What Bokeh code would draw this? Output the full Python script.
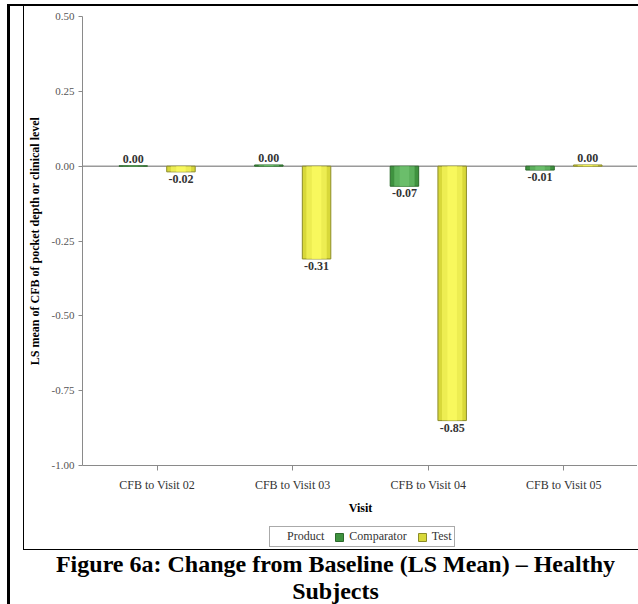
from bokeh.plotting import figure
from bokeh.models import (ColumnDataSource, Range1d, FactorRange, FixedTicker,
                          NumeralTickFormatter, Span, Legend, LegendItem, Div)
from bokeh.transform import dodge
from bokeh.layouts import column
from bokeh.embed import file_html
from bokeh.resources import INLINE
from bokeh.core.properties import value

# ---------------- data ----------------
visits = ["CFB to Visit 02", "CFB to Visit 03", "CFB to Visit 04", "CFB to Visit 05"]
comparator = [0.001, 0.004, -0.067, -0.013]
test = [-0.019, -0.31, -0.85, 0.004]
y_ticks = [-1.0, -0.75, -0.5, -0.25, 0.0, 0.25, 0.5]
series_names = ["Comparator", "Test"]
legend_title = "Product"
x_title = "Visit"
y_title = "LS mean of CFB of pocket depth or clinical level"
caption = "Figure 6a: Change from Baseline (LS Mean) \u2013 Healthy<br>Subjects"

FONT = "Liberation Serif"

p = figure(frame_width=555, frame_height=449,
           x_range=FactorRange(factors=visits, range_padding=0.05,
                               range_padding_units="absolute"),
           y_range=Range1d(-1.0, 0.5),
           output_backend="svg", toolbar_location=None,
           min_border_left=57, min_border_top=10, min_border_right=0,
           min_border_bottom=55,
           background_fill_color="white", border_fill_color="white")
p.outline_line_color = None
p.xgrid.visible = False
p.ygrid.visible = False

# axes
p.yaxis.ticker = FixedTicker(ticks=y_ticks)
p.yaxis.formatter = NumeralTickFormatter(format="0.00")
for ax in (p.xaxis[0], p.yaxis[0]):
    ax.axis_line_color = "#8a8a8a"
    ax.major_tick_line_color = "#8a8a8a"
    ax.major_tick_in = 0
    ax.minor_tick_line_color = None
    ax.major_label_text_font = FONT
    ax.axis_label_text_font = FONT
    ax.axis_label_text_font_style = "bold"
    ax.axis_label_text_color = "black"
    ax.axis_label_text_font_size = "12px"
p.yaxis.major_tick_out = 4
p.yaxis.major_label_text_font_size = "11px"
p.yaxis.major_label_text_color = "#555555"
p.yaxis.major_label_standoff = 4
p.yaxis.axis_label = y_title
p.yaxis.axis_label_standoff = 7
p.xaxis.major_tick_out = 5
p.xaxis.major_label_text_font_size = "12px"
p.xaxis.major_label_text_color = "#333333"
p.xaxis.major_label_standoff = 7
p.xaxis.axis_label = x_title
p.xaxis.axis_label_standoff = 6

p.add_layout(Span(location=0, dimension="width", line_color="#9a9a9a",
                  line_width=1.5, level="underlay"))

styles = {
    "Comparator": dict(base="#3f923f", light="#74c874", line="#2c6a2c", off=-0.176),
    "Test": dict(base="#d8d83a", light="#ffff66", line="#8c8c28", off=0.176),
}

# legend strip (its own small plot, below the chart, inside the frame border)
lg = figure(frame_width=614, frame_height=29, x_range=Range1d(0, 1),
            y_range=Range1d(0, 1), x_axis_type=None, y_axis_type=None,
            output_backend="svg", toolbar_location=None,
            min_border_left=0, min_border_right=0, min_border_top=0,
            min_border_bottom=0, background_fill_color="white",
            border_fill_color="white")
lg.outline_line_color = None
lg.xgrid.visible = False
lg.ygrid.visible = False

legend_items = []
# keys live off-screen in the legend strip, they only feed the legend swatches
dummy = lg.vbar(x=[-10], top=[-10], width=0.1, fill_alpha=0, line_alpha=0)
legend_items.append(LegendItem(label=legend_title, renderers=[dummy]))

for name, vals in zip(series_names, [comparator, test]):
    st = styles[name]
    src = ColumnDataSource(dict(visit=visits, val=vals))
    xd = dodge("visit", st["off"], range=p.x_range)
    p.vbar(x=xd, top="val", bottom=0, width=0.21, source=src,
           fill_color=st["base"], line_color=st["line"], line_width=1)
    p.vbar(x=xd, top="val", bottom=0, width=0.15, source=src,
           fill_color=st["light"], fill_alpha=0.55, line_color=None)
    p.vbar(x=xd, top="val", bottom=0, width=0.07, source=src,
           fill_color=st["light"], fill_alpha=0.6, line_color=None)
    key = lg.vbar(x=[-10], top=[-10], width=0.1, fill_color=st["base"],
                  line_color=st["line"])
    legend_items.append(LegendItem(label=name, renderers=[key]))

    pos = dict(visit=[], val=[], lab=[])
    neg = dict(visit=[], val=[], lab=[])
    for v, y in zip(visits, vals):
        d = pos if y >= 0 else neg
        d["visit"].append(v)
        d["val"].append(y)
        d["lab"].append(f"{y:.2f}")
    for d, bl, yo in ((pos, "bottom", -3), (neg, "top", 3)):
        p.text(x=dodge("visit", st["off"], range=p.x_range), y="val", text="lab",
               source=ColumnDataSource(d), text_align="center", text_baseline=bl,
               y_offset=yo, text_font=value(FONT), text_font_style="bold",
               text_font_size="12px", text_color="#333333")

legend = Legend(items=legend_items, orientation="horizontal", location=(245, 3),
                label_text_font=FONT, label_text_font_size="12px",
                label_text_color="#333333", glyph_width=10, glyph_height=10,
                label_standoff=5, spacing=10, padding=2, margin=0,
                border_line_color="#555555", border_line_width=1,
                background_fill_color="white", label_height=12)
lg.add_layout(legend)

cap = Div(text='<div style="margin-top:-4px">' + caption + '</div>',
          width=615, height=52,
          styles={"text-align": "center", "font-family": FONT,
                  "font-weight": "bold", "font-size": "24px",
                  "line-height": "27px", "color": "black"})

p.styles = {"border-left": "1px solid black"}
lg.styles = {"border-left": "1px solid black", "border-bottom": "1px solid black"}

root = column(p, lg, cap, spacing=0,
              styles={"margin-left": "7px", "margin-top": "4px",
                      "border-left": "3px solid black",
                      "border-top": "2px solid black",
                      "padding-left": "13px"})

open("out.html", "w").write(file_html(root, INLINE))
